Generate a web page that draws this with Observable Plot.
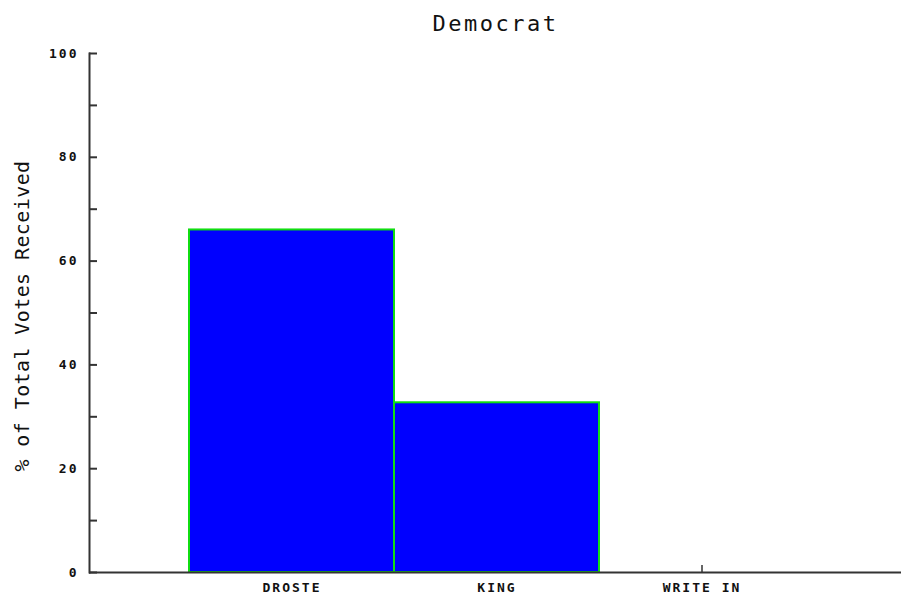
<!DOCTYPE html>
<html>
<head>
<meta charset="utf-8">
<script src="https://cdn.jsdelivr.net/npm/d3@7"></script>
<script src="https://cdn.jsdelivr.net/npm/@observablehq/plot@0.6"></script>
<style>
  html, body { margin: 0; padding: 0; background: #fff; }
  #chart svg { display: block; }
  g[aria-label="y-axis tick label"] text,
  g[aria-label="x-axis tick label"] text { letter-spacing: 2px; }
</style>
</head>
<body>
<div id="chart"></div>
<script>
const title = "Democrat";
const yLabel = "% of Total Votes Received";
const candidates = ["DROSTE", "KING", "WRITE IN"];
const percents = [66, 32.7, 0];
const yTicks = [0, 10, 20, 30, 40, 50, 60, 70, 80, 90, 100];
const yLabelTicks = [0, 20, 40, 60, 80, 100];

const data = candidates.map((c, i) => ({candidate: c, pct: percents[i]}));
const mono = "DejaVu Sans Mono";
const axisColor = "#333";

const chart = Plot.plot({
  width: 901,
  height: 598,
  marginTop: 53,
  marginBottom: 26,
  marginLeft: 89,
  marginRight: 0,
  style: {background: "#fff", color: "#000", fontFamily: mono},
  x: {domain: candidates, paddingInner: 0, paddingOuter: 0.475, align: 0.508, axis: null},
  y: {domain: [0, 100], axis: null},
  marks: [
    Plot.axisX({tickSize: -7, text: null, stroke: axisColor, strokeWidth: 1.5, label: null}),
    Plot.barY(data, {x: "candidate", y: "pct", fill: "#0000ff", stroke: "#11dd11", strokeWidth: 2}),
    Plot.ruleY([0], {stroke: axisColor, strokeWidth: 2}),
    Plot.frame({anchor: "left", stroke: axisColor, strokeWidth: 2}),
    Plot.axisY({ticks: yTicks, tickSize: -8, text: null, stroke: axisColor, strokeWidth: 2, label: null}),
    Plot.axisY({ticks: yLabelTicks, tickSize: 0, tickPadding: 11, fontSize: 13, fontWeight: "bold", fontFamily: mono, fill: "#111", label: null}),
    Plot.axisX({tickSize: 0, tickPadding: 10, fontSize: 13, fontWeight: "bold", fontFamily: mono, fill: "#111", label: null}),
    Plot.text([title], {frameAnchor: "top", lineAnchor: "middle", textAnchor: "middle", dy: -29.5, fontSize: 22, fontFamily: mono, fill: "#111"}),
    Plot.text([yLabel], {frameAnchor: "left", textAnchor: "middle", lineAnchor: "middle", rotate: -90, dx: -67, dy: 3, fontSize: 20, fontFamily: mono, fill: "#111"})
  ]
});
d3.select(chart).selectAll("text").each(function() {
  const t = this.textContent;
  if (t === title) this.style.letterSpacing = "2.5px";
  if (t === yLabel) this.style.letterSpacing = "0.4px";
});
document.getElementById("chart").append(chart);
</script>
</body>
</html>
